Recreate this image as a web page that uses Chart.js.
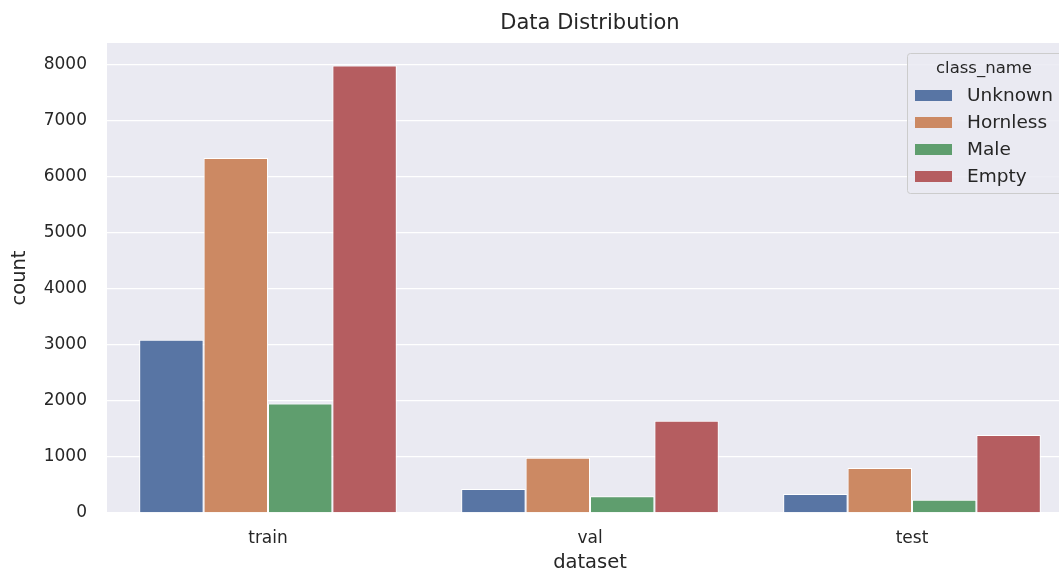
<!DOCTYPE html>
<html>
<head>
<meta charset="utf-8">
<script src="https://cdn.jsdelivr.net/npm/chart.js"></script>
<style>
  html, body { margin: 0; padding: 0; background: #fff; overflow: hidden; }
  #wrap { width: 1059px; height: 573px; overflow: hidden; }
</style>
</head>
<body>
<div id="wrap"><canvas id="chart" width="1075" height="573"></canvas></div>
<script>
const datasets = ["train", "val", "test"];
const classNames = ["Unknown", "Hornless", "Male", "Empty"];
const unknownCounts = [3090, 430, 340];
const hornlessCounts = [6330, 985, 800];
const maleCounts = [1950, 300, 235];
const emptyCounts = [7975, 1645, 1390];
const yTicks = [0, 1000, 2000, 3000, 4000, 5000, 6000, 7000, 8000];
const yMax = 8378;
const colors = ["#5875a4", "#cc8963", "#5f9e6e", "#b55d60"];
const chartTitle = "Data Distribution";

const font = "'DejaVu Sans', sans-serif";
const textColor = "#262626";

// title centred over the plot area (matplotlib style), not the canvas
const plotTitle = {
  id: "plotTitle",
  afterDraw(chart) {
    const { ctx, chartArea } = chart;
    ctx.save();
    ctx.fillStyle = textColor;
    ctx.font = "21px " + font;
    ctx.textAlign = "center";
    ctx.textBaseline = "middle";
    ctx.fillText(chartTitle, (chartArea.left + chartArea.right) / 2, 24);
    ctx.restore();
  }
};

// legend box drawn inside the plot, top right, like seaborn's
const legendBox = {
  id: "legendBox",
  afterDraw(chart) {
    const { ctx, chartArea } = chart;
    const x = chartArea.right - 166, y = chartArea.top + 10;
    const w = 170, h = 140;
    ctx.save();
    ctx.fillStyle = "rgba(234,234,242,0.85)";
    ctx.strokeStyle = "#cccccc";
    ctx.lineWidth = 1;
    ctx.beginPath();
    ctx.roundRect(x + 0.5, y + 0.5, w, h, 3);
    ctx.fill();
    ctx.stroke();
    ctx.fillStyle = textColor;
    ctx.font = "16.5px " + font;
    ctx.textAlign = "center";
    ctx.textBaseline = "middle";
    ctx.fillText("class_name", x + 77, y + 16);
    ctx.font = "18.5px " + font;
    ctx.textAlign = "left";
    chart.data.datasets.forEach((ds, i) => {
      const cy = y + 42 + i * 27;
      ctx.fillStyle = ds.backgroundColor;
      ctx.fillRect(x + 8, cy - 5, 37, 11);
      ctx.fillStyle = textColor;
      ctx.fillText(ds.label, x + 60, cy + 1);
    });
    ctx.restore();
  }
};

const bgPlugin = {
  id: "plotBg",
  beforeDraw(chart) {
    const { ctx, chartArea } = chart;
    ctx.save();
    ctx.fillStyle = "#eaeaf2";
    ctx.fillRect(chartArea.left, chartArea.top, chartArea.right - chartArea.left, chartArea.bottom - chartArea.top);
    ctx.restore();
  }
};

const series = [unknownCounts, hornlessCounts, maleCounts, emptyCounts];

new Chart(document.getElementById("chart").getContext("2d"), {
  type: "bar",
  data: {
    labels: datasets,
    datasets: classNames.map((name, i) => ({
      label: name,
      data: series[i],
      backgroundColor: colors[i],
      borderColor: "#ffffff",
      borderWidth: 1,
      categoryPercentage: 0.8,
      barPercentage: 1.0
    }))
  },
  options: {
    responsive: false,
    animation: false,
    layout: { padding: { left: 0, right: 2, top: 43, bottom: 0 } },
    plugins: {
      legend: { display: false },
      tooltip: { enabled: false },
      title: { display: false }
    },
    scales: {
      x: {
        grid: { display: false, drawTicks: false },
        border: { display: false },
        ticks: { color: textColor, font: { family: font, size: 17 }, padding: 15 },
        title: { display: true, text: "dataset", color: textColor, font: { family: font, size: 19.5, lineHeight: 1 }, padding: { top: 0, bottom: 0 } },
        afterFit(scale) { scale.height = 60; }
      },
      y: {
        min: 0,
        max: yMax,
        afterBuildTicks(scale) { scale.ticks = yTicks.map(v => ({ value: v })); },
        grid: { color: "#ffffff", lineWidth: 1.3, drawTicks: false },
        border: { display: false },
        ticks: { color: textColor, font: { family: font, size: 17 }, padding: 20, callback: v => String(v) },
        title: { display: true, text: "count", color: textColor, font: { family: font, size: 19.5 }, padding: { top: 8, bottom: 0 } },
        afterFit(scale) { scale.width = 107; }
      }
    }
  },
  plugins: [bgPlugin, plotTitle, legendBox]
});
</script>
</body>
</html>
